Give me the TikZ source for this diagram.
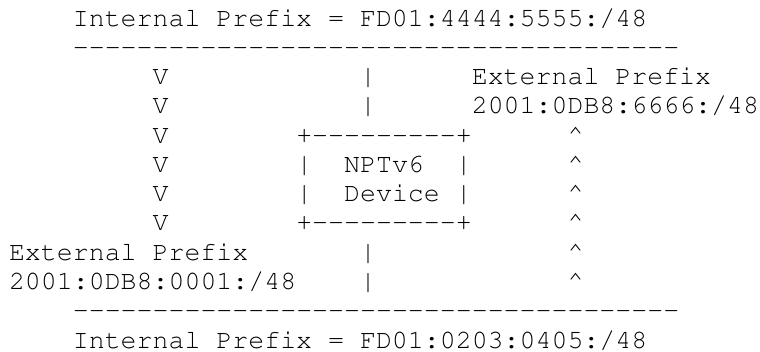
\documentclass[tikz,border=0pt]{standalone}
\usepackage[T1]{fontenc}
\usepackage{courier}
\usepackage{tikz}
\usetikzlibrary{positioning}

\tikzset{
  asc/.style={anchor=base west, inner sep=0pt, outer sep=0pt,
    font=\ttfamily\fontsize{13.3pt}{14.64pt}\selectfont},
}
% a run of single hyphens (no -- ligature)
\newcommand{\dashrun}[1]{\foreach \k in {1,...,#1}{-}}

\begin{document}
\begin{tikzpicture}[x=7.98pt, y=14.64pt]
    \useasboundingbox (-0.564,0.888) rectangle (47.06,-11.102);
    % top prefix line
    \node[asc] (intop) at (4,0) {Internal Prefix = FD01:4444:5555:/48};
    \node[asc] (dashtop) at (4,-1) {\dashrun{38}};
    % inbound column
    \foreach \r in {2,...,7}
        \node[asc] (vin\r) at (9,-\r) {V};
    % outbound column
    \foreach \r in {4,...,9}
        \node[asc] (up\r) at (35,-\r) {\textasciicircum};
    % upper link and external prefix
    \node[asc] (linka) at (22,-2) {|};
    \node[asc] (linkb) at (22,-3) {|};
    \node[asc] (extup) at (29,-2) {External Prefix};
    \node[asc] (extupval) at (29,-3) {2001:0DB8:6666:/48};
    % NPTv6 device box
    \node[asc] (boxtop) at (18,-4) {+\dashrun{9}+};
    \node[asc] (boxla) at (18,-5) {|};
    \node[asc] (devname) at (21,-5) {NPTv6};
    \node[asc] (boxra) at (28,-5) {|};
    \node[asc] (boxlb) at (18,-6) {|};
    \node[asc] (devkind) at (21,-6) {Device};
    \node[asc] (boxrb) at (28,-6) {|};
    \node[asc] (boxbot) at (18,-7) {+\dashrun{9}+};
    % lower link and external prefix
    \node[asc] (linkc) at (22,-8) {|};
    \node[asc] (linkd) at (22,-9) {|};
    \node[asc] (extlow) at (0,-8) {External Prefix};
    \node[asc] (extlowval) at (0,-9) {2001:0DB8:0001:/48};
    % bottom prefix line
    \node[asc] (dashbot) at (4,-10) {\dashrun{38}};
    \node[asc] (inbot) at (4,-11) {Internal Prefix = FD01:0203:0405:/48};
\end{tikzpicture}
\end{document}
